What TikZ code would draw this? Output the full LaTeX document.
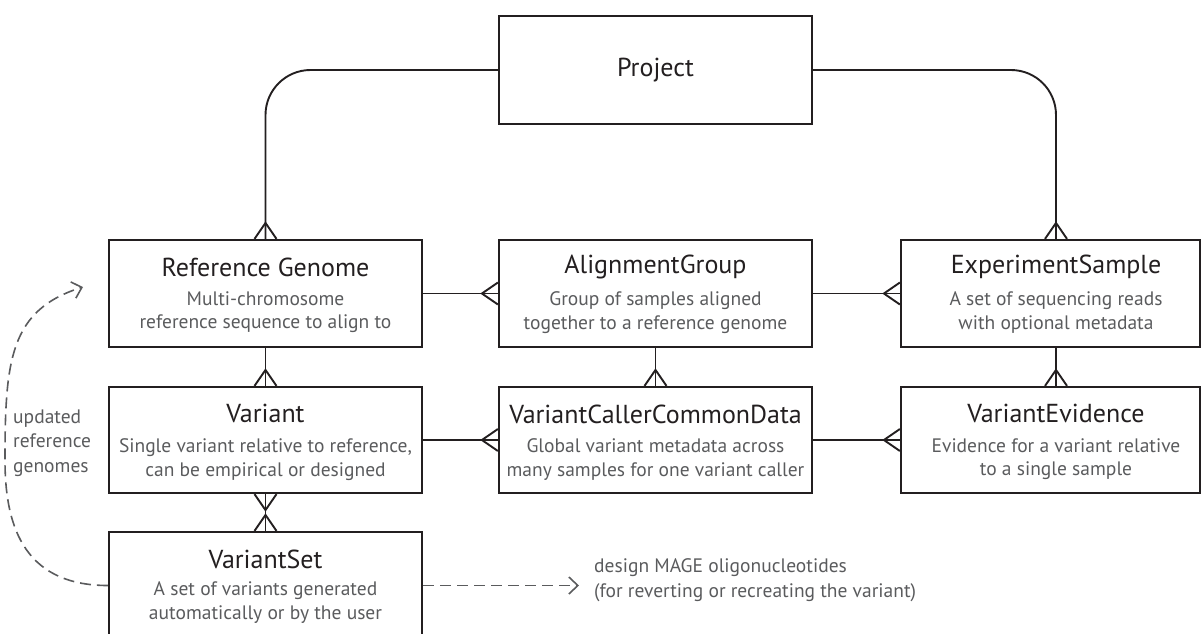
\documentclass[tikz,border=0pt]{standalone}
\usepackage{fontspec}
\setmainfont{PT Sans}
\usetikzlibrary{calc,arrows.meta}

\definecolor{ink}{HTML}{231F20}
\definecolor{txtgray}{HTML}{5A5B5D}
\definecolor{dashgray}{HTML}{5A5B5D}

\tikzset{
  entity/.style={draw=ink, line width=2.2pt, minimum width=313pt, minimum height=107pt, inner sep=0pt},
  ttl/.style={text=ink, font=\fontsize{26}{30}\selectfont, inner sep=0pt},
  dsc/.style={text=txtgray, font=\fontsize{19.5}{23.5}\selectfont, align=center, inner sep=0pt},
  conn/.style={draw=ink, line width=1.9pt, line join=miter},
  flow/.style={draw=dashgray, line width=1.6pt, dash pattern=on 11pt off 6pt,
    -{Straight Barb[length=9pt,width=17pt,line width=1.6pt]}},
  note/.style={text=txtgray, font=\fontsize{19.5}{24.5}\selectfont, align=left, inner sep=0pt},
}

% crow's feet (many-ends) on a top, bottom or left box edge
\newcommand\crowtop[1]{\draw[conn] ($(#1)+(-11,0)$) -- ($(#1)+(0,-16)$) -- ($(#1)+(11,0)$);}
\newcommand\crowbot[1]{\draw[conn] ($(#1)+(-11,0)$) -- ($(#1)+(0,16)$) -- ($(#1)+(11,0)$);}
\newcommand\crowleft[1]{\draw[conn] ($(#1)+(0,-11)$) -- ($(#1)+(-16,0)$) -- ($(#1)+(0,11)$);}

\begin{document}
\begin{tikzpicture}[x=1pt, y=-1pt]
\useasboundingbox (0,0) rectangle (1202,633);
\clip (0,0) rectangle (1202,633);

% entities
\node[entity, minimum height=108pt] (prj) at (655.5,70) {};
\node[ttl] (prjT) at (prj.center) {Project};

\node[entity] (rg) at (265.5,293.5) {};
\node[ttl] (rgT) at ($(rg.north)+(0,28)$) {Reference Genome};
\node[dsc] (rgD) at ($(rg.north)+(0,73.5)$) {Multi-chromosome\\reference sequence to align to};

\node[entity] (ag) at (655.5,293.5) {};
\node[ttl] (agT) at ($(ag.north)+(0,28)$) {AlignmentGroup};
\node[dsc] (agD) at ($(ag.north)+(0,73.5)$) {Group of samples aligned\\together to a reference genome};

\node[entity, minimum width=299pt] (es) at (1050.5,293.5) {};
\node[ttl] (esT) at ($(es.north)+(5.5,28)$) {ExperimentSample};
\node[dsc] (esD) at ($(es.north)+(5.5,73.5)$) {A set of sequencing reads\\with optional metadata};

\node[entity, minimum height=106pt] (var) at (265.5,440) {};
\node[ttl] (varT) at ($(var.north)+(0,28)$) {Variant};
\node[dsc] (varD) at ($(var.north)+(0,73.5)$) {Single variant relative to reference,\\can be empirical or designed};

\node[entity, minimum height=106pt] (vccd) at (655.5,440) {};
\node[ttl] (vccdT) at ($(vccd.north)+(0,28)$) {VariantCallerCommonData};
\node[dsc] (vccdD) at ($(vccd.north)+(0,73.5)$) {Global variant metadata across\\many samples for one variant caller};

\node[entity, minimum width=299pt, minimum height=106pt] (ve) at (1050.5,440) {};
\node[ttl] (veT) at ($(ve.north)+(5.5,28)$) {VariantEvidence};
\node[dsc] (veD) at ($(ve.north)+(5.5,73.5)$) {Evidence for a variant relative\\to a single sample};

\node[entity] (vs) at (265.5,585.5) {};
\node[ttl] (vsT) at ($(vs.north)+(0,28)$) {VariantSet};
\node[dsc] (vsD) at ($(vs.north)+(0,71.5)$) {A set of variants generated\\automatically or by the user};

% relations
\draw[conn, rounded corners=45pt] (prj.west) -| (rg.north);
\crowtop{rg.north}
\coordinate (esIn) at ($(es.north)+(5.5,0)$);
\draw[conn, rounded corners=45pt] (prj.east) -| (esIn);
\crowtop{esIn}

\draw[conn] (rg.east) -- (ag.west);  \crowleft{ag.west}
\draw[conn] (ag.east) -- (es.west);  \crowleft{es.west}
\draw[conn] (var.east) -- (vccd.west);  \crowleft{vccd.west}
\draw[conn] (vccd.east) -- (ve.west);  \crowleft{ve.west}

\draw[conn] (rg.south) -- (var.north);  \crowtop{var.north}
\draw[conn] (ag.south) -- (vccd.north);  \crowtop{vccd.north}
\coordinate (esOut) at ($(es.south)+(5.5,0)$);
\coordinate (veIn) at ($(ve.north)+(5.5,0)$);
\draw[conn] (esOut) -- (veIn);  \crowtop{veIn}

\draw[conn] (var.south) -- (vs.north);  \crowbot{var.south}  \crowtop{vs.north}

% workflow hints
\coordinate (upd) at (83,287);
\draw[flow] (vs.west) .. controls (20,585.5) and (5,520) .. (5,460)
  .. controls (5,360) and (10,310) .. (upd);
\node[note, anchor=west] (updT) at (13,443) {updated\\reference\\genomes};

\coordinate (mage) at (579,585.5);
\draw[flow] (vs.east) -- (mage);
\node[note, anchor=west] (mageT) at (594,580) {design MAGE oligonucleotides\\(for reverting or recreating the variant)};
\end{tikzpicture}
\end{document}
